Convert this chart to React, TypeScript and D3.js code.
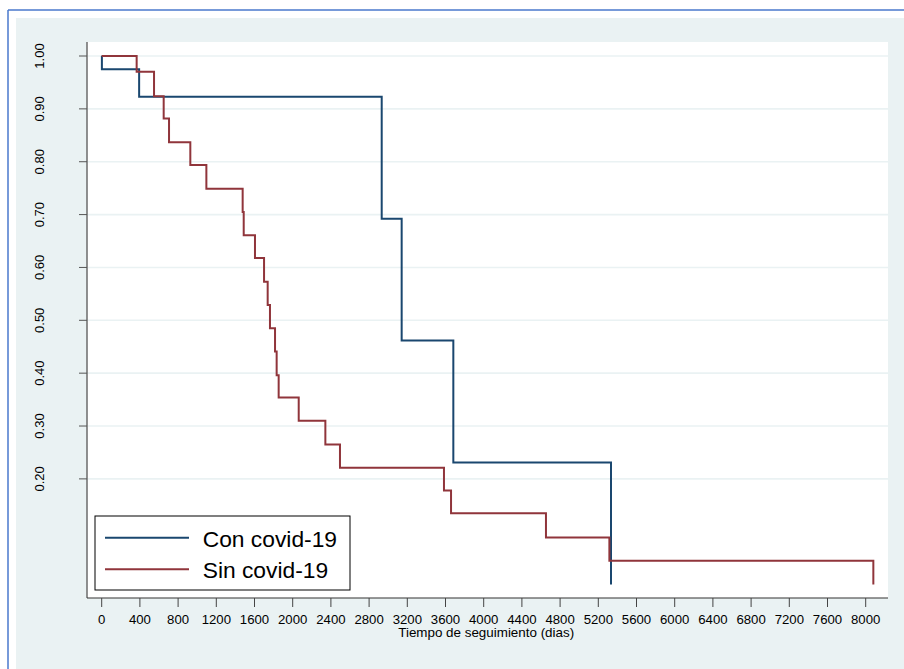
import { scaleLinear, line as d3line, curveStepAfter } from "d3";

// Kaplan-Meier estimates (days, survival)
const conTimes = [0, 2, 392, 2932, 3141, 3682, 5333];
const conSurv = [1, 0.975, 0.923, 0.692, 0.462, 0.231, 0];

const sinTimes = [
  0, 366, 548, 649, 705, 928, 1096, 1476, 1487, 1605, 1700, 1738, 1762, 1815,
  1832, 1853, 2063, 2342, 2495, 3584, 3658, 4652, 5316, 8080,
];
const sinSurv = [
  1, 0.97, 0.924, 0.882, 0.837, 0.794, 0.749, 0.705, 0.661, 0.618, 0.573,
  0.529, 0.485, 0.441, 0.396, 0.354, 0.31, 0.265, 0.221, 0.178, 0.135, 0.089,
  0.045, 0,
];

const yTicks = [0.2, 0.3, 0.4, 0.5, 0.6, 0.7, 0.8, 0.9, 1.0];
const xTicks = [
  0, 400, 800, 1200, 1600, 2000, 2400, 2800, 3200, 3600, 4000, 4400, 4800,
  5200, 5600, 6000, 6400, 6800, 7200, 7600, 8000,
];

const series = [
  { name: "Con covid-19", times: conTimes, surv: conSurv, color: "#1a476f" },
  { name: "Sin covid-19", times: sinTimes, surv: sinSurv, color: "#90353b" },
];

const font = "Arial, 'Liberation Sans', Helvetica, sans-serif";

export default function App() {
  const W = 904;
  const H = 669;
  const plot = { left: 87, top: 42, right: 888, bottom: 598 };

  const x = scaleLinear().domain([0, 8000]).range([101.7, 865.7]);
  const y = scaleLinear().domain([0, 1]).range([584.6, 56]);

  const step = d3line<[number, number]>()
    .x((d) => x(d[0]))
    .y((d) => y(d[1]))
    .curve(curveStepAfter);

  return (
    <svg
      width={W}
      height={H}
      style={{ position: "absolute", left: 0, top: 0, display: "block" }}
      fontFamily={font}
    >
      <rect x={0} y={0} width={W} height={H} fill="#ffffff" />
      {/* outer frame */}
      <line x1={8} y1={10} x2={W} y2={10} stroke="#4a78cc" strokeWidth={1.5} />
      <line x1={8} y1={10} x2={8} y2={H} stroke="#4a78cc" strokeWidth={1.5} />
      {/* graph region */}
      <rect x={16} y={18} width={W - 16} height={H - 18} fill="#eaf2f3" />
      {/* plot region */}
      <rect
        x={plot.left}
        y={plot.top}
        width={plot.right - plot.left}
        height={plot.bottom - plot.top}
        fill="#ffffff"
      />

      {/* grid */}
      {yTicks.map((t) => (
        <line
          key={"g" + t}
          x1={plot.left}
          x2={plot.right}
          y1={y(t)}
          y2={y(t)}
          stroke="#eaf2f3"
          strokeWidth={1.6}
        />
      ))}

      {/* y axis */}
      <line
        x1={plot.left}
        x2={plot.left}
        y1={plot.top}
        y2={plot.bottom}
        stroke="#6b6b6b"
        strokeWidth={1.5}
      />
      {yTicks.map((t) => (
        <g key={"y" + t}>
          <line
            x1={plot.left - 8}
            x2={plot.left}
            y1={y(t)}
            y2={y(t)}
            stroke="#555"
            strokeWidth={1}
          />
          <text
            transform={`translate(44.3,${y(t)}) rotate(-90)`}
            textAnchor="middle"
            fontSize={13}
            fill="#000"
          >
            {t.toFixed(2)}
          </text>
        </g>
      ))}

      {/* x axis */}
      <line
        x1={plot.left}
        x2={plot.right}
        y1={plot.bottom}
        y2={plot.bottom}
        stroke="#333"
        strokeWidth={1.2}
      />
      {xTicks.map((t) => (
        <g key={"x" + t}>
          <line
            x1={x(t)}
            x2={x(t)}
            y1={plot.bottom}
            y2={plot.bottom + 9}
            stroke="#444"
            strokeWidth={1}
          />
          <text
            x={x(t)}
            y={623.5}
            textAnchor="middle"
            fontSize={13.2}
            fill="#000"
          >
            {t}
          </text>
        </g>
      ))}
      <text x={486.2} y={637} textAnchor="middle" fontSize={13.4} fill="#000">
        Tiempo de seguimiento (dias)
      </text>

      {/* curves */}
      {series.map((s) => (
        <path
          key={s.name}
          d={step(s.times.map((t, i) => [t, s.surv[i]] as [number, number])) ?? ""}
          fill="none"
          stroke={s.color}
          strokeWidth={2}
        />
      ))}

      {/* legend */}
      <rect
        x={95}
        y={516}
        width={255}
        height={74}
        fill="#ffffff"
        stroke="#000"
        strokeWidth={1}
      />
      {series.map((s, i) => {
        const ly = 537.7 + i * 31.6;
        return (
          <g key={"l" + s.name}>
            <line x1={105} x2={189} y1={ly} y2={ly} stroke={s.color} strokeWidth={2} />
            <text x={202.7} y={ly + 8.8} fontSize={22.8} fill="#000">
              {s.name}
            </text>
          </g>
        );
      })}
    </svg>
  );
}
